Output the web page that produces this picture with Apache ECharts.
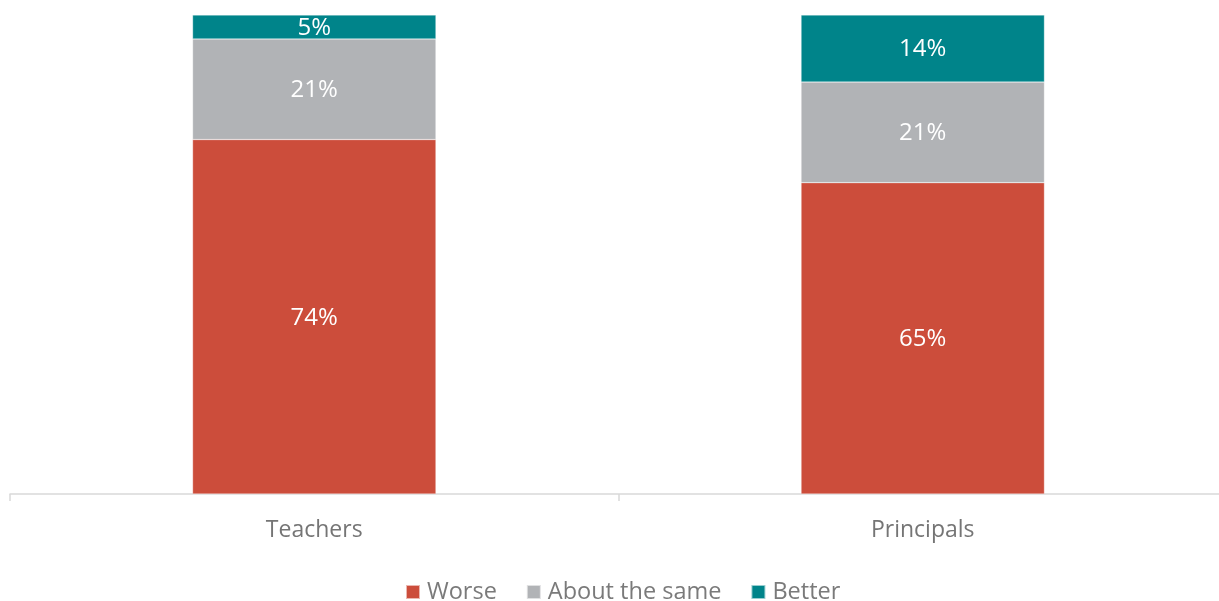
<!DOCTYPE html>
<html>
<head>
<meta charset="utf-8">
<style>
  html, body { margin: 0; padding: 0; background: #ffffff; }
  #chart { width: 1219px; height: 601px; }
</style>
<script src="https://cdn.jsdelivr.net/npm/echarts@6/dist/echarts.min.js"></script>
</head>
<body>
<div id="chart"></div>
<script>
const categories = ['Teachers', 'Principals'];
const worse = [74, 65];
const aboutSame = [21, 21];
const better = [5, 14];

const FONT = '"Open Sans", "Noto Sans", sans-serif';

function stackSeries(name, data, color) {
  return {
    name: name,
    type: 'bar',
    stack: 'total',
    barWidth: '40%',
    data: data,
    itemStyle: { color: color, borderColor: 'rgba(255,255,255,0.6)', borderWidth: 0.5 },
    label: {
      show: true,
      position: 'inside',
      formatter: '{c}%',
      color: '#ffffff',
      fontSize: 24,
      fontFamily: FONT,
      offset: [0, 1]
    }
  };
}

const chart = echarts.init(document.getElementById('chart'), null, { renderer: 'canvas' });
chart.setOption({
  animation: false,
  backgroundColor: '#ffffff',
  grid: { left: 10, top: 15, right: -8, height: 479, containLabel: false, outerBoundsMode: 'none' },
  legend: {
    data: ['Worse', 'About the same', 'Better'],
    left: 405,
    top: 580,
    padding: 0,
    icon: 'rect',
    itemWidth: 14,
    itemHeight: 14,
    itemGap: 29,
    textStyle: { color: '#7a7a7a', fontSize: 23.5, fontFamily: FONT, padding: [0, 0, 0, 2] }
  },
  xAxis: {
    type: 'category',
    data: categories,
    axisLine: { show: true, lineStyle: { color: '#d9d9d9', width: 1.5 } },
    axisTick: { show: true, length: 7, lineStyle: { color: '#d9d9d9', width: 1.5 } },
    axisLabel: { color: '#757575', fontSize: 23, fontFamily: FONT, margin: 25 }
  },
  yAxis: {
    type: 'value',
    min: 0,
    max: 100,
    show: false,
    splitLine: { show: false }
  },
  series: [
    stackSeries('Worse', worse, '#cc4d3b'),
    stackSeries('About the same', aboutSame, '#b1b3b6'),
    stackSeries('Better', better, '#00848a')
  ]
});
</script>
</body>
</html>
